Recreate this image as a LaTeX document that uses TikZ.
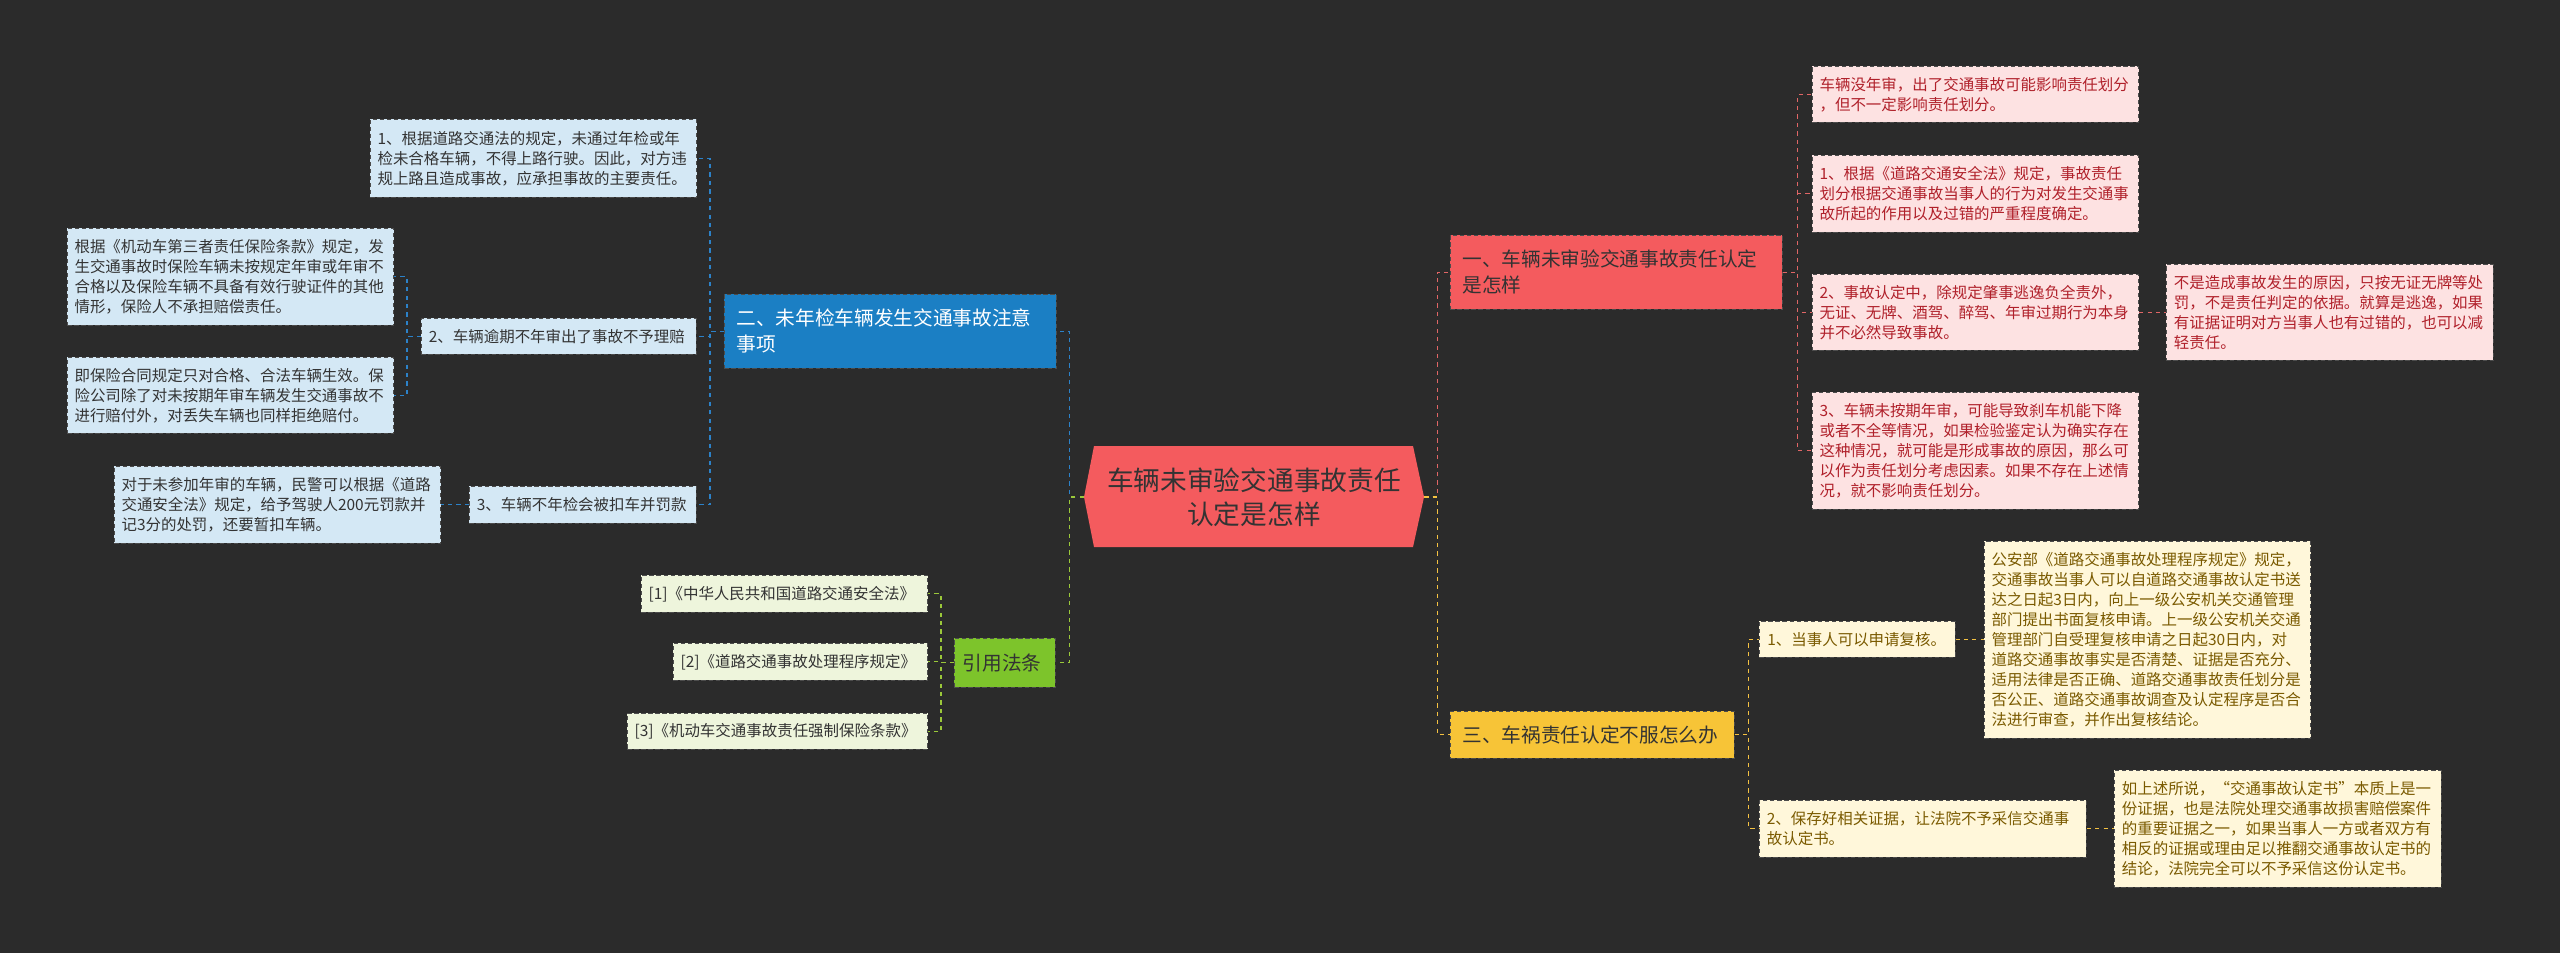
\documentclass[tikz,border=0pt]{standalone}
\usepackage{fontspec}
\setmainfont{Noto Sans CJK SC}
\definecolor{bg}{HTML}{2B2B2B}
\definecolor{cred}{HTML}{F45B5E}
\definecolor{cblue}{HTML}{1B7FC4}
\definecolor{cyel}{HTML}{F7C437}
\definecolor{cgrn}{HTML}{7DC42B}
\definecolor{lred}{HTML}{FDE2E2}
\definecolor{lblue}{HTML}{D4E8F5}
\definecolor{lyel}{HTML}{FFF7DA}
\definecolor{lgrn}{HTML}{EEF5DC}
\definecolor{tred}{HTML}{B0202A}
\definecolor{tyel}{HTML}{7A5A00}
\definecolor{ered}{HTML}{E06666}
\definecolor{eblue}{HTML}{2C82C9}
\definecolor{eyel}{HTML}{F5C242}
\definecolor{egrn}{HTML}{9BC83A}
\begin{document}
\begin{tikzpicture}[x=1cm,y=-1cm,
  box/.style={anchor=north west,draw=black!70,densely dashed,line width=0.5pt,inner xsep=0.18cm,inner ysep=0pt,align=left,font=\fontsize{11}{14.2}\selectfont},
  rl/.style={box,fill=lred,text=tred},
  bl/.style={box,fill=lblue,text=black!80},
  yl/.style={box,fill=lyel,text=tyel},
  gl/.style={box,fill=lgrn,text=black!80},
  head/.style={anchor=north west,draw=black!70,densely dashed,line width=0.5pt,inner xsep=0.3cm,inner ysep=0pt,align=left,font=\fontsize{14}{18.5}\selectfont},
  sz/.style n args={3}{minimum width=#1cm,minimum height=#2cm,text width=#3cm},
  er/.style={draw=ered,dashed,line width=0.9pt},
  eb/.style={draw=eblue,dashed,line width=0.9pt},
  ey/.style={draw=eyel,dashed,line width=0.9pt},
  eg/.style={draw=egrn,dashed,line width=0.9pt}]
\fill[bg] (0,0) rectangle (64,23.825);
\useasboundingbox (0,0) rectangle (64,23.825);
% central
\fill[cred] (27.1,12.425) -- (27.35,11.15) -- (35.325,11.15) -- (35.6,12.425) -- (35.325,13.675) -- (27.35,13.675) -- cycle;
\node[align=center,minimum width=8.5cm,minimum height=2.5cm,text=black!80,font=\fontsize{19}{24}\selectfont] (c) at (31.35,12.425) {车辆未审验交通事故责任\\认定是怎样};
% heads
\node[head,fill=cred,text=black!80,sz={8.3}{1.85}{7.7}] (h1) at (36.25,5.875) {一、车辆未审验交通事故责任认定\\是怎样};
\node[head,fill=cblue,text=white,sz={8.3}{1.85}{7.7}] (h2) at (18.1,7.35) {二、未年检车辆发生交通事故注意\\事项};
\node[head,fill=cyel,text=black!80,sz={7.025}{1.175}{6.5}] (h3) at (36.25,17.775) {三、车祸责任认定不服怎么办};
\node[head,fill=cgrn,text=black!80,inner xsep=0.2cm,sz={2.525}{1.225}{2.1}] (h4) at (23.85,15.95) {引用法条};
% red leaves
\node[rl,sz={8.15}{1.4}{7.8}] (l1) at (45.3,1.65) {车辆没年审，出了交通事故可能影响责任划分\\，但不一定影响责任划分。};
\node[rl,sz={8.15}{1.925}{7.8}] (l2) at (45.3,3.875) {1、根据《道路交通安全法》规定，事故责任\\划分根据交通事故当事人的行为对发生交通事\\故所起的作用以及过错的严重程度确定。};
\node[rl,sz={8.15}{1.9}{7.8}] (l3) at (45.3,6.85) {2、事故认定中，除规定肇事逃逸负全责外，\\无证、无牌、酒驾、醉驾、年审过期行为本身\\并不必然导致事故。};
\node[rl,sz={8.175}{2.4}{7.8}] (l3a) at (54.15,6.6) {不是造成事故发生的原因，只按无证无牌等处\\罚，不是责任判定的依据。就算是逃逸，如果\\有证据证明对方当事人也有过错的，也可以减\\轻责任。};
\node[rl,sz={8.15}{2.925}{7.8}] (l4) at (45.3,9.8) {3、车辆未按期年审，可能导致刹车机能下降\\或者不全等情况，如果检验鉴定认为确实存在\\这种情况，就可能是形成事故的原因，那么可\\以作为责任划分考虑因素。如果不存在上述情\\况，就不影响责任划分。};
% blue leaves
\node[bl,sz={8.15}{1.95}{7.8}] (a1) at (9.25,2.975) {1、根据道路交通法的规定，未通过年检或年\\检未合格车辆，不得上路行驶。因此，对方违\\规上路且造成事故，应承担事故的主要责任。};
\node[bl,sz={6.875}{0.9}{6.5}] (a2) at (10.525,7.95) {2、车辆逾期不年审出了事故不予理赔};
\node[bl,sz={8.15}{2.425}{7.8}] (b1) at (1.675,5.7) {根据《机动车第三者责任保险条款》规定，发\\生交通事故时保险车辆未按规定年审或年审不\\合格以及保险车辆不具备有效行驶证件的其他\\情形，保险人不承担赔偿责任。};
\node[bl,sz={8.15}{1.9}{7.8}] (b2) at (1.675,8.925) {即保险合同规定只对合格、合法车辆生效。保\\险公司除了对未按期年审车辆发生交通事故不\\进行赔付外，对丢失车辆也同样拒绝赔付。};
\node[bl,sz={5.675}{0.925}{5.3}] (a3) at (11.725,12.15) {3、车辆不年检会被扣车并罚款};
\node[bl,sz={8.15}{1.925}{7.8}] (a3a) at (2.85,11.65) {对于未参加年审的车辆，民警可以根据《道路\\交通安全法》规定，给予驾驶人200元罚款并\\记3分的处罚，还要暂扣车辆。};
% yellow leaves
\node[yl,sz={4.9}{0.9}{4.5}] (y1) at (43.975,15.525) {1、当事人可以申请复核。};
\node[yl,sz={8.15}{4.925}{7.8}] (y1a) at (49.6,13.525) {公安部《道路交通事故处理程序规定》规定，\\交通事故当事人可以自道路交通事故认定书送\\达之日起3日内，向上一级公安机关交通管理\\部门提出书面复核申请。上一级公安机关交通\\管理部门自受理复核申请之日起30日内，对\\道路交通事故事实是否清楚、证据是否充分、\\适用法律是否正确、道路交通事故责任划分是\\否公正、道路交通事故调查及认定程序是否合\\法进行审查，并作出复核结论。};
\node[yl,sz={8.175}{1.425}{7.8}] (y2) at (43.975,20) {2、保存好相关证据，让法院不予采信交通事\\故认定书。};
\node[yl,sz={8.175}{2.925}{7.8}] (y2a) at (52.85,19.25) {如上述所说，“交通事故认定书”本质上是一\\份证据，也是法院处理交通事故损害赔偿案件\\的重要证据之一，如果当事人一方或者双方有\\相反的证据或理由足以推翻交通事故认定书的\\结论，法院完全可以不予采信这份认定书。};
% green leaves
\node[gl,sz={7.15}{0.925}{6.8}] (r1) at (16.025,14.375) {[1]《中华人民共和国道路交通安全法》};
\node[gl,sz={6.35}{0.925}{6.0}] (r2) at (16.825,16.075) {[2]《道路交通事故处理程序规定》};
\node[gl,sz={7.5}{0.9}{7.15}] (r3) at (15.675,17.825) {[3]《机动车交通事故责任强制保险条款》};
% connectors
\draw[er] (c.east) -- ++(0.325,0) |- (h1.west);
\draw[ey] (c.east) -- ++(0.325,0) |- (h3.west);
\draw[eb] (c.west) -- ++(-0.35,0) |- (h2.east);
\draw[eg] (c.west) -- ++(-0.35,0) |- (h4.east);
\foreach \n in {l1,l2,l3,l4} \draw[er] (h1.east) -- ++(0.375,0) |- (\n.west);
\draw[er] (l3.east) -- ++(0.35,0) |- (l3a.west);
\foreach \n in {a1,a2,a3} \draw[eb] (h2.west) -- ++(-0.35,0) |- (\n.east);
\foreach \n in {b1,b2} \draw[eb] (a2.west) -- ++(-0.35,0) |- (\n.east);
\draw[eb] (a3.west) -- ++(-0.35,0) |- (a3a.east);
\foreach \n in {y1,y2} \draw[ey] (h3.east) -- ++(0.35,0) |- (\n.west);
\draw[ey] (y1.east) -- ++(0.35,0) |- (y1a.west);
\draw[ey] (y2.east) -- ++(0.35,0) |- (y2a.west);
\foreach \n in {r1,r2,r3} \draw[eg] (h4.west) -- ++(-0.325,0) |- (\n.east);
\end{tikzpicture}
\end{document}
